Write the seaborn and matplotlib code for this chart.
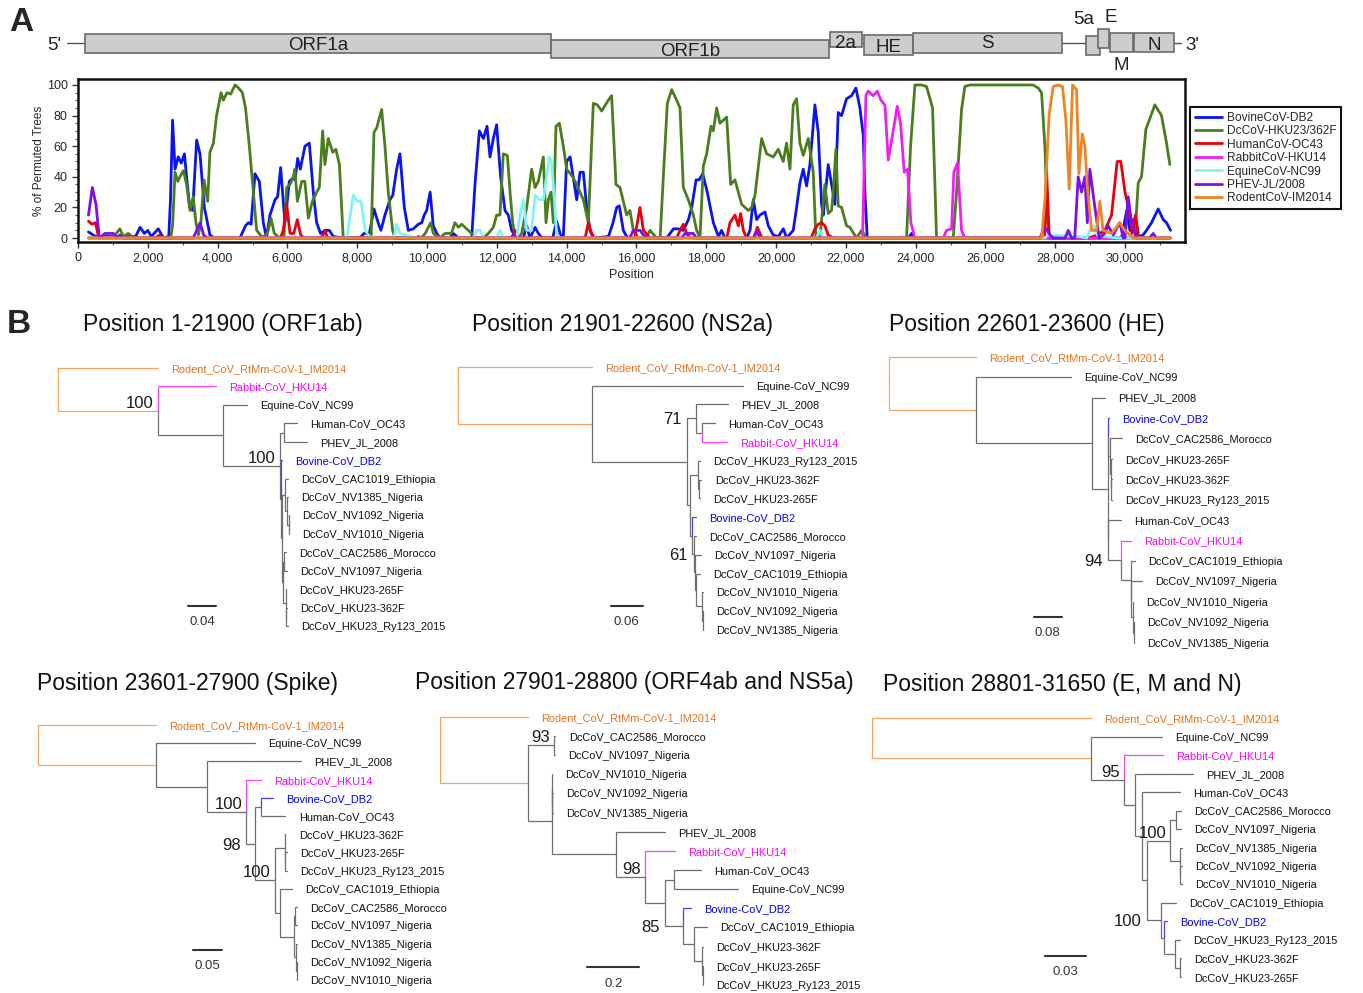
import pandas as pd
import seaborn as sns
import matplotlib.pyplot as plt
from matplotlib import font_manager
from matplotlib.patches import Rectangle
from matplotlib.ticker import MultipleLocator

W, H = 1363, 993

# ---------------- panel A: bootscan data ----------------
virus_names = ['BovineCoV-DB2', 'DcCoV-HKU23/362F', 'HumanCoV-OC43', 'RabbitCoV-HKU14',
               'EquineCoV-NC99', 'PHEV-JL/2008', 'RodentCoV-IM2014']
virus_colors = ['#0a14f0', '#4a7d1e', '#e8000b', '#f01ef0', '#80f4f4', '#7a10f0', '#ee8422']

bovine = [(300, 4), (500, 1), (1500, 1), (1650, 1), (1780, 7), (1900, 3), (2000, 5), (2100, 1), (2300, 6),
          (2450, 0), (2600, 1), (2650, 25), (2710, 77), (2780, 45), (2870, 53), (2960, 49), (3050, 55),
          (3110, 40), (3200, 20), (3285, 18), (3400, 64), (3495, 55), (3620, 20), (3780, 2), (3900, 0),
          (4640, 0), (4800, 8), (4880, 10), (4960, 9), (5070, 42), (5195, 37), (5310, 10), (5400, 0),
          (5500, 15), (5645, 25), (5720, 27), (5806, 46), (5930, 10), (6055, 37), (6150, 39), (6220, 38),
          (6293, 52), (6370, 45), (6503, 60), (6628, 62), (6742, 30), (6838, 10), (6950, 3), (7077, 5),
          (7200, 5), (7315, 1), (7600, 0), (8080, 0), (8195, 3), (8350, 3), (8480, 19), (8600, 10),
          (8680, 5), (8795, 15), (8940, 25), (9020, 28), (9130, 45), (9225, 55), (9350, 20), (9465, 5),
          (9610, 6), (9750, 9), (9850, 10), (9920, 15), (9990, 18), (10090, 30), (10180, 8), (10280, 3),
          (10370, 0), (10650, 0), (10755, 3), (10900, 0), (11280, 0), (11375, 35), (11500, 70),
          (11615, 65), (11720, 73), (11805, 53), (11900, 65), (11995, 74), (12110, 40), (12235, 18),
          (12330, 15), (12425, 5), (12570, 0), (12760, 0), (12855, 8), (12950, 0), (13095, 7),
          (13190, 3), (13300, 0), (13600, 0), (13715, 11), (13850, 0), (13905, 0), (14000, 50),
          (14100, 53), (14175, 42), (14290, 25), (14385, 43), (14480, 43), (14575, 20), (14670, 5),
          (14770, 0), (15200, 1), (15330, 10), (15435, 20), (15510, 21), (15625, 5), (15720, 1),
          (15850, 0), (16870, 0), (17060, 6), (17200, 6), (17345, 5), (17490, 12), (17585, 20),
          (17710, 38), (17800, 38), (17900, 42), (18030, 30), (18205, 10), (18350, 1), (18440, 5),
          (18540, 0), (19160, 0), (19255, 5), (19350, 25), (19445, 12), (19540, 15), (19685, 17),
          (19780, 8), (19920, 2), (20066, 1), (20210, 6), (20305, 0), (20494, 5), (20590, 20),
          (20685, 36), (20780, 45), (20876, 34), (20972, 48), (21115, 87), (21210, 69), (21306, 22),
          (21354, 15), (21497, 48), (21592, 35), (21688, 22), (21783, 82), (21879, 80), (22022, 91),
          (22165, 93), (22290, 98), (22404, 85), (22500, 67), (22547, 30), (22614, 0), (23800, 0),
          (23885, 3), (23980, 0), (29900, 0), (30050, 18), (30140, 5), (30240, 12), (30330, 0),
          (30520, 2), (30617, 5), (30760, 10), (30951, 19), (31095, 12), (31190, 10), (31305, 5)]

dccov = [(300, 0), (900, 0), (1060, 2), (1200, 6), (1300, 1), (1440, 3), (1550, 1), (1700, 0), (2650, 0),
         (2710, 8), (2780, 43), (2860, 37), (2920, 40), (3020, 44), (3110, 35), (3210, 18), (3300, 27),
         (3380, 10), (3450, 2), (3520, 10), (3610, 38), (3715, 24), (3780, 56), (3880, 62), (3970, 80),
         (4100, 95), (4165, 90), (4270, 95), (4375, 94), (4500, 100), (4600, 98), (4710, 95), (4800, 85),
         (4910, 60), (5005, 35), (5120, 5), (5260, 1), (5360, 1), (5455, 5), (5530, 13), (5625, 3),
         (5780, 0), (5900, 0), (5980, 33), (6075, 35), (6170, 40), (6215, 45), (6285, 24), (6410, 37),
         (6500, 37), (6600, 13), (6715, 24), (6840, 30), (6915, 33), (7010, 70), (7075, 48), (7170, 65),
         (7300, 56), (7390, 58), (7490, 48), (7600, 0), (8400, 0), (8480, 69), (8560, 72), (8700, 84),
         (8795, 60), (8890, 30), (9015, 5), (9080, 0), (9650, 0), (9760, 1), (9830, 0), (9950, 3),
         (10105, 10), (10180, 3), (10370, 0), (10516, 3), (10700, 3), (10800, 10), (10900, 7),
         (10994, 9), (11090, 7), (11185, 5), (11280, 3), (11375, 0), (11620, 0), (11758, 3), (11900, 7),
         (11996, 15), (12090, 15), (12187, 55), (12302, 54), (12380, 30), (12455, 10), (12520, 2),
         (12617, 0), (12712, 3), (12856, 20), (12999, 45), (13095, 33), (13190, 37), (13333, 53),
         (13410, 10), (13477, 25), (13553, 30), (13620, 10), (13696, 73), (13792, 75), (13906, 60),
         (14002, 45), (14175, 40), (14288, 35), (14480, 25), (14622, 10), (14766, 88), (14880, 87),
         (15005, 83), (15195, 90), (15291, 93), (15415, 35), (15530, 33), (15645, 22), (15721, 15),
         (15816, 18), (15912, 5), (16055, 0), (16280, 0), (16390, 5), (16580, 0), (16680, 0),
         (16772, 40), (16886, 88), (17010, 97), (17154, 90), (17249, 85), (17345, 33), (17488, 25),
         (17631, 15), (17727, 5), (17822, 0), (17918, 47), (18013, 55), (18137, 73), (18204, 70),
         (18300, 85), (18395, 75), (18586, 79), (18701, 35), (18825, 38), (19016, 22), (19207, 18),
         (19302, 20), (19398, 28), (19589, 65), (19732, 55), (19923, 53), (20066, 58), (20207, 50),
         (20303, 62), (20400, 45), (20494, 87), (20590, 91), (20685, 62), (20780, 54), (20924, 65),
         (21067, 43), (21143, 0), (21258, 0), (21401, 35), (21497, 16), (21592, 18), (21640, 30),
         (21716, 58), (21783, 21), (21879, 20), (22022, 8), (22117, 7), (22309, 0), (22452, 5),
         (22590, 0), (23741, 0), (23856, 60), (23980, 100), (24170, 100), (24314, 99), (24486, 85),
         (24600, 0), (25078, 0), (25174, 30), (25317, 84), (25412, 99), (25556, 100), (27370, 100),
         (27513, 98), (27609, 95), (27705, 60), (27781, 10), (27850, 0), (30283, 0), (30378, 36),
         (30473, 40), (30598, 71), (30712, 78), (30855, 87), (31046, 80), (31190, 62), (31285, 48)]

human = [(300, 11), (400, 9), (500, 10), (585, 1), (700, 0), (2200, 0), (2350, 2), (2450, 0), (5800, 0),
         (5880, 5), (5980, 22), (6075, 3), (6180, 3), (6285, 12), (6380, 2), (6480, 0), (6900, 0),
         (7000, 1), (7077, 5), (7150, 0), (12430, 0), (12522, 5), (12600, 0), (14530, 0), (14622, 10),
         (14720, 3), (14800, 0), (15950, 0), (16103, 20), (16200, 5), (16390, 0), (17150, 0),
         (17249, 5), (17345, 9), (17440, 3), (17530, 0), (18590, 0), (18681, 10), (18825, 15),
         (18920, 8), (18987, 16), (19063, 5), (19160, 0), (19380, 0), (19465, 7), (19600, 0),
         (21000, 0), (21115, 6), (21210, 9), (21306, 10), (21400, 8), (21497, 2), (21640, 0),
         (27700, 0), (27752, 45), (27830, 0), (28950, 0), (29200, 2), (29423, 5), (29614, 15),
         (29776, 50), (29880, 50), (30000, 30), (30100, 20), (30200, 3), (30300, 15), (30400, 0),
         (31300, 0)]

rabbit = [(300, 0), (22480, 0), (22576, 93), (22640, 96), (22786, 93), (22900, 96), (23010, 90),
          (23120, 87), (23216, 51), (23359, 70), (23474, 86), (23569, 75), (23674, 43), (23770, 45),
          (23865, 10), (23980, 0), (24790, 0), (24887, 5), (25030, 6), (25097, 43), (25202, 49),
          (25317, 5), (25412, 0), (31300, 0)]

equine = [(300, 0), (7700, 0), (7890, 28), (8000, 24), (8110, 24), (8230, 5), (8350, 1), (8500, 0),
          (9050, 0), (9130, 9), (9225, 3), (9500, 1), (9700, 0), (11330, 0), (11424, 5), (11520, 5),
          (11620, 0), (11995, 0), (12092, 5), (12190, 0), (12570, 0), (12665, 15), (12760, 25),
          (12856, 5), (12999, 5), (13095, 28), (13238, 25), (13333, 25), (13505, 53), (13570, 50),
          (13650, 25), (13715, 3), (13810, 0), (21160, 0), (21258, 5), (21354, 0), (27700, 0),
          (27800, 2), (28700, 1), (28900, 0), (29000, 5), (29100, 8), (29200, 2), (29400, 1),
          (29800, 0), (31300, 0)]

phev = [(300, 15), (410, 33), (515, 22), (610, 0), (775, 3), (1010, 3), (1100, 0), (1200, 2), (1300, 0),
        (3300, 0), (3400, 5), (3500, 10), (3600, 2), (3700, 0), (12400, 0), (12474, 2), (12570, 0),
        (15810, 0), (15912, 5), (16103, 5), (16200, 2), (16300, 0), (17300, 0), (17392, 3), (17630, 3),
        (17720, 0), (19350, 0), (19445, 5), (19540, 0), (27560, 0), (27657, 5), (27752, 6), (27850, 2),
        (27950, 0), (28280, 0), (28373, 5), (28470, 0), (28560, 0), (28659, 40), (28755, 30),
        (28850, 40), (28920, 10), (28993, 45), (29137, 20), (29261, 0), (29420, 3), (29519, 8),
        (29660, 2), (29853, 10), (29950, 0), (30000, 0), (30091, 27), (30187, 10), (30330, 0),
        (30700, 0), (30808, 3), (30900, 0), (31300, 0)]

rodent = [(300, 0), (27609, 0), (27705, 25), (27828, 81), (27943, 99), (28086, 100), (28210, 99),
          (28306, 77), (28402, 32), (28497, 100), (28612, 97), (28679, 42), (28774, 68), (28850, 60),
          (28917, 35), (29041, 5), (29185, 5), (29280, 24), (29370, 5), (29614, 3), (29853, 10),
          (29990, 5), (30140, 2), (30240, 0), (31300, 0)]

x_ticks = [0, 2000, 4000, 6000, 8000, 10000, 12000, 14000, 16000, 18000, 20000, 22000, 24000,
           26000, 28000, 30000]
x_tick_labels = ['0', '2,000', '4,000', '6,000', '8,000', '10,000', '12,000', '14,000', '16,000',
                 '18,000', '20,000', '22,000', '24,000', '26,000', '28,000', '30,000']
y_ticks = [0, 20, 40, 60, 80, 100]

# genome map
genes = ['ORF1a', 'ORF1b', '2a', 'HE', 'S', '5a', 'E', 'M', 'N']
gene_start = [200, 13550, 21550, 22520, 23930, 28880, 29230, 29570, 30260]
gene_end = [13550, 21520, 22460, 23930, 28200, 29290, 29540, 30230, 31400]

# ---------------- panel B: trees ----------------
leaf_names = {
    'Rod': 'Rodent_CoV_RtMm-CoV-1_IM2014', 'Rab': 'Rabbit-CoV_HKU14', 'Equ': 'Equine-CoV_NC99',
    'Hum': 'Human-CoV_OC43', 'PHE': 'PHEV_JL_2008', 'Bov': 'Bovine-CoV_DB2',
    'C1019': 'DcCoV_CAC1019_Ethiopia', 'N1385': 'DcCoV_NV1385_Nigeria', 'N1092': 'DcCoV_NV1092_Nigeria',
    'N1010': 'DcCoV_NV1010_Nigeria', 'C2586': 'DcCoV_CAC2586_Morocco', 'N1097': 'DcCoV_NV1097_Nigeria',
    'H265': 'DcCoV_HKU23-265F', 'H362': 'DcCoV_HKU23-362F', 'Ry123': 'DcCoV_HKU23_Ry123_2015',
}
leaf_text_colors = {'Rod': '#e8731e', 'Rab': '#ff00ff', 'Bov': '#0000ff'}
leaf_branch_colors = {'Rod': '#f5a55a', 'Rab': '#ff40ff', 'Bov': '#4040ff'}
root_branch_color = '#f5a55a'

tree_titles = ['Position 1-21900 (ORF1ab)', 'Position 21901-22600 (NS2a)', 'Position 22601-23600 (HE)',
               'Position 23601-27900 (Spike)', 'Position 27901-28800 (ORF4ab and NS5a)',
               'Position 28801-31650 (E, M and N)']
tree_scales = [0.04, 0.06, 0.08, 0.05, 0.2, 0.03]
tree_newick = [
    "(Rod:0.141,(Rab:0.083,(Equ:0.034,((Hum:0.018,PHE:0.032):0.006,(Bov:0.002,((C1019:0.004,"
    "(N1385:0.0015,(N1092:0.001,N1010:0.001):0.002):0.003):0.004,((C2586:0.003,N1097:0.004):0.002,"
    "(H265:0.001,(H362:0.001,Ry123:0.002):0.001):0.004):0.001):0.002):0.001)100:0.081):0.092)100:0.141);",
    "(Rod:0.2525,(Equ:0.287,((PHE:0.062,(Hum:0.024,Rab:0.046):0.0125)71:0.016,((Ry123:0.005,"
    "(H362:0.004,H265:0.001):0.003):0.014,(Bov:0.006,(C2586:0.005,(N1097:0.012,(C1019:0.009,"
    "(N1010:0.001,(N1092:0.001,N1385:0.001):0.001):0.012):0.002):0.002)61:0.002):0.004):0.006):0.181):0.2525);",
    "(Rod:0.25,(Equ:0.275,(PHE:0.037,((Bov:0.001,(C2586:0.034,(H265:0.003,(H362:0.001,Ry123:0.002)"
    ":0.001):0.003):0.005):0.002,(Hum:0.038,(Rab:0.027,(C1019:0.014,(N1097:0.030,(N1010:0.001,"
    "(N1092:0.001,N1385:0.001):0.003):0.005):0.002):0.027)94:0.038):0.001):0.045):0.337):0.25);",
    "(Rod:0.209,(Equ:0.175,(PHE:0.166,(Rab:0.026,((Bov:0.022,Hum:0.044):0.009,((H362:0.001,"
    "(H265:0.002,Ry123:0.002):0.001):0.018,(C1019:0.022,((C2586:0.003,N1097:0.003):0.002,"
    "(N1385:0.002,(N1092:0.001,N1010:0.001):0.001):0.004):0.025):0.009)100:0.034)98:0.016)100:0.069)"
    ":0.090):0.209);",
    "(Rod:0.337,((C2586:0.006,N1097:0.004)93:0.101,((N1010:0.001,(N1092:0.001,N1385:0.001):0.001)"
    ":0.002,(PHE:0.188,(Rab:0.113,((Hum:0.106,Equ:0.247):0.032,(Bov:0.032,(C1019:0.049,(H362:0.004,"
    "(H265:0.001,Ry123:0.001):0.005):0.030):0.041)85:0.068):0.077)98:0.114):0.247):0.092):0.337);",
    "(Rod:0.161,(Equ:0.0524,(Rab:0.0285,(PHE:0.043,(Hum:0.0282,(((C2586:0.0037,N1097:0.0037):0.0039,"
    "(N1385:0.0015,(N1092:0.0011,N1010:0.0011):0.0004):0.0069)100:0.0172,(C1019:0.0113,(Bov:0.002,"
    "(Ry123:0.0039,(H362:0.0007,H265:0.0007):0.0037):0.0081):0.0024)100:0.0099):0.0041):0.0049)"
    ":0.0081)95:0.0246):0.161);",
]

# layout of each tree in pixels: root x, first leaf y, leaf step, px per unit, scale bar, title
tree_layout = [
    dict(root=57.7, top=368.0, step=18.43, ppu=708, bar=(188, 605.7), title=(83, 325)),
    dict(root=458.3, top=366.7, step=18.8, ppu=528, bar=(611, 606), title=(471.7, 325)),
    dict(root=889.0, top=356.7, step=20.43, ppu=346, bar=(1034, 616.7), title=(889.3, 325)),
    dict(root=37.7, top=725.0, step=18.21, ppu=567, bar=(193.3, 950), title=(37.3, 683.3)),
    dict(root=440.0, top=716.7, step=19.16, ppu=260, bar=(587.3, 967.3), title=(415, 682.7)),
    dict(root=872.3, top=718.3, step=18.46, ppu=1356, bar=(1045, 956), title=(882.7, 684)),
]


def fig_box(x0, y0, x1, y1):
    return [x0 / W, 1 - y1 / H, (x1 - x0) / W, (y1 - y0) / H]


def parse_newick(text):
    pos = 0

    def read_node():
        nonlocal pos
        node = {'children': [], 'length': 0.0}
        if text[pos] == '(':
            pos += 1
            node['children'].append(read_node())
            while text[pos] == ',':
                pos += 1
                node['children'].append(read_node())
            pos += 1
        start = pos
        while text[pos] not in ':,();':
            pos += 1
        node['name'] = text[start:pos]
        if text[pos] == ':':
            pos += 1
            start = pos
            while text[pos] not in ',();':
                pos += 1
            node['length'] = float(text[start:pos])
        return node

    return read_node()


def layout_tree(node, parent_x, leaves):
    node['x'] = parent_x + node['length']
    if node['children']:
        for child in node['children']:
            layout_tree(child, node['x'], leaves)
        node['y'] = (node['children'][0]['y'] + node['children'][-1]['y']) / 2
    else:
        node['y'] = len(leaves)
        leaves.append(node)


def draw_tree(ax, node, ppu, is_root=False):
    for child in node['children']:
        if is_root:
            color = root_branch_color
        else:
            color = leaf_branch_colors.get(child['name'], '#6f6f6f')
        ax.plot([node['x'], node['x'], child['x']], [node['y'], child['y'], child['y']],
                color=color, lw=0.9, solid_joinstyle='miter')
        draw_tree(ax, child, ppu)
        if child['children'] and child['name']:
            if child['length'] * ppu > 18.5:
                ax.annotate(child['name'], (child['x'], child['y']), xytext=(-3, 0),
                            textcoords='offset points', ha='right', va='bottom', fontsize=12,
                            color='#1a1a1a')
            else:
                ax.annotate(child['name'], (node['x'], child['y']), xytext=(-3.8, 0),
                            textcoords='offset points', ha='right', va='center_baseline',
                            fontsize=12, color='#1a1a1a')
    if not node['children']:
        ax.annotate(leaf_names[node['name']], (node['x'], node['y']), xytext=(9.5, 0),
                    textcoords='offset points', ha='left', va='center_baseline',
                    fontsize=leaf_size, family=leaf_font,
                    color=leaf_text_colors.get(node['name'], '#111111'))


sns.set_style('white')
plt.rcParams['font.family'] = ['Liberation Sans', 'DejaVu Sans']

installed = {f.name for f in font_manager.fontManager.ttflist}
if 'Liberation Sans Narrow' in installed:
    leaf_font, leaf_size, gene_font, gene_size = 'Liberation Sans Narrow', 9.6, 'Liberation Sans Narrow', 16
else:
    leaf_font, leaf_size, gene_font, gene_size = 'Liberation Sans', 7.9, 'Liberation Sans', 13.5

fig = plt.figure(figsize=(W / 100, H / 100), dpi=100)
fig.patch.set_facecolor('white')

x_max = (1185 - 78) / 69.8 * 2000

# ---- genome map ----
gax = fig.add_axes(fig_box(78, 0, 1185, 80))
gax.set_xlim(0, x_max)
gax.set_ylim(80, 0)
gax.axis('off')
box_rows = {'ORF1a': (34, 53), 'ORF1b': (40, 58), '2a': (32, 47), 'HE': (35, 55), 'S': (33, 53),
            '5a': (36, 55), 'E': (29, 48), 'M': (33, 52), 'N': (33, 52)}
label_rows = {'ORF1a': 46, 'ORF1b': 52, '2a': 44, 'HE': 48, 'S': 44, '5a': 19, 'E': 18, 'M': 65, 'N': 46}
label_shift = {'5a': -7, 'E': 5.5}
gax.plot([-320, 31600], [43, 43], color='#555555', lw=1, clip_on=False)
for g, s, e in zip(genes, gene_start, gene_end):
    top, bot = box_rows[g]
    gax.add_patch(Rectangle((s, top), e - s, bot - top, facecolor='#cdcdcd', edgecolor='#6a6a6a',
                            lw=1.2, zorder=3))
    gax.annotate(g, ((s + e) / 2, label_rows[g]), xytext=(label_shift.get(g, 0), 0),
                 textcoords='offset points', ha='center', va='center', fontsize=gene_size,
                 family=gene_font, color='#222222', zorder=4)
fig.text(47 / W, 1 - 46 / H, "5'", fontsize=gene_size, family=gene_font, va='center', color='#222222')
fig.text(1185 / W, 1 - 45 / H, "3'", fontsize=gene_size, family=gene_font, va='center', color='#222222')

# ---- bootscan plot ----
series = [bovine, dccov, human, rabbit, equine, phev, rodent]
records = []
for name, pts in zip(virus_names, series):
    for p, v in pts:
        records.append((name, p, v))
df = pd.DataFrame(records, columns=['virus', 'pos', 'pct'])

ax = fig.add_axes(fig_box(78, 79, 1185, 242))
sns.lineplot(data=df, x='pos', y='pct', hue='virus', hue_order=virus_names,
             palette=dict(zip(virus_names, virus_colors)), estimator=None, linewidth=2.0, ax=ax)
ax.set_xlim(0, x_max)
ax.set_ylim(-2.6, 103.9)
ax.set_xticks(x_ticks)
ax.set_xticklabels(x_tick_labels)
ax.set_yticks(y_ticks)
ax.xaxis.set_minor_locator(MultipleLocator(1000))
ax.yaxis.set_minor_locator(MultipleLocator(5))
ax.tick_params(axis='both', which='major', direction='out', length=4, width=1, labelsize=9,
               bottom=True, left=True, color='#333333')
ax.tick_params(axis='both', which='minor', direction='out', length=2, width=0.8,
               bottom=True, left=True, color='#555555')
for sp in ax.spines.values():
    sp.set_linewidth(1.8)
    sp.set_color('#111111')
ax.set_xlabel('Position', fontsize=9, labelpad=3)
ax.set_ylabel('% of Permuted Trees', fontsize=8.5, labelpad=1)
sns.move_legend(ax, 'upper left', bbox_to_anchor=(1.0045, 0.828), title=None, frameon=True,
                fontsize=8.6, handlelength=2.3, labelspacing=0.12, borderpad=0.4, handletextpad=0.4,
                borderaxespad=0, fancybox=False, edgecolor='#111111', framealpha=1)
leg = ax.get_legend()
leg.get_frame().set_linewidth(1.5)
for line in leg.get_lines():
    line.set_linewidth(2.0)

# ---- trees ----
for newick, title, scale, lay in zip(tree_newick, tree_titles, tree_scales, tree_layout):
    root = parse_newick(newick)
    leaves = []
    layout_tree(root, 0.0, leaves)
    x0, x1 = lay['root'] - 10, lay['root'] + 480
    y0, y1 = lay['top'] - 20, lay['top'] + 15 * lay['step'] + 25
    tax = fig.add_axes(fig_box(x0, y0, x1, y1))
    tax.set_xlim((x0 - lay['root']) / lay['ppu'], (x1 - lay['root']) / lay['ppu'])
    tax.set_ylim((y1 - lay['top']) / lay['step'], (y0 - lay['top']) / lay['step'])
    tax.axis('off')
    draw_tree(tax, root, lay['ppu'], is_root=True)
    bx = (lay['bar'][0] - lay['root']) / lay['ppu']
    by = (lay['bar'][1] - lay['top']) / lay['step']
    tax.plot([bx, bx + scale], [by, by], color='#333333', lw=1.5)
    tax.annotate(f'{scale:g}', (bx + scale / 2, by), xytext=(0, -7.5), textcoords='offset points',
                 ha='center', va='top', fontsize=9.5, color='#333333')
    fig.text(lay['title'][0] / W, 1 - lay['title'][1] / H, title, fontsize=16.5, va='center',
             ha='left', color='#111111')

fig.text(9 / W, 1 - 7 / H, 'A', fontsize=24, fontweight='bold', va='top', ha='left')
fig.text(7 / W, 1 - 309 / H, 'B', fontsize=24, fontweight='bold', va='top', ha='left')

fig.savefig('out.png', dpi=100, facecolor='white')
